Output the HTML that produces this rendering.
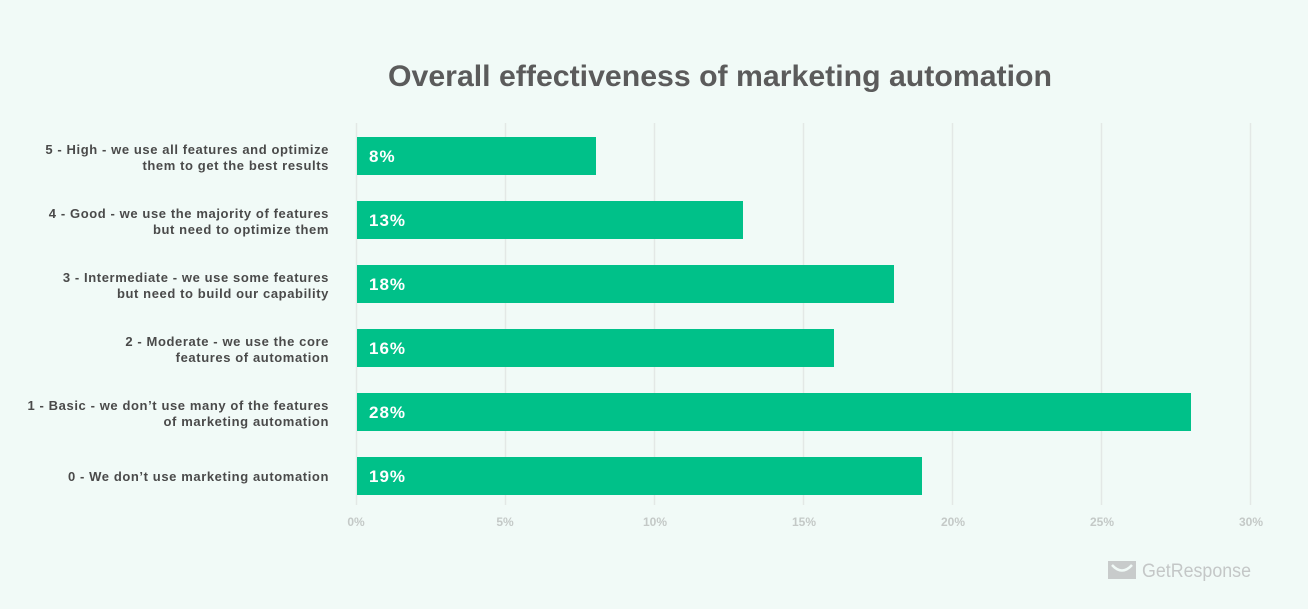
<!DOCTYPE html>
<html><head><meta charset="utf-8"><style>
body{margin:0;width:1308px;height:604px;background:#f1faf7;font-family:"Liberation Sans",sans-serif;overflow:hidden}
</style></head><body>
<svg width="1308" height="604" xmlns="http://www.w3.org/2000/svg" font-family="Liberation Sans, sans-serif">
<rect width="1308" height="604" fill="#f1faf7"/>
<text x="720" y="86" text-anchor="middle" font-size="30" font-weight="bold" fill="#5b5b5b" textLength="664" lengthAdjust="spacingAndGlyphs">Overall effectiveness of marketing automation</text>
<g stroke="#e3e8e6" stroke-width="1.5">
<line x1="356.5" y1="123" x2="356.5" y2="505"/>
<line x1="505.5" y1="123" x2="505.5" y2="505"/>
<line x1="654.5" y1="123" x2="654.5" y2="505"/>
<line x1="803.5" y1="123" x2="803.5" y2="505"/>
<line x1="952.5" y1="123" x2="952.5" y2="505"/>
<line x1="1101.5" y1="123" x2="1101.5" y2="505"/>
<line x1="1250.5" y1="123" x2="1250.5" y2="505"/>
</g>
<g font-size="12" font-weight="bold" fill="#c4c9c7" text-anchor="middle">
<text x="356" y="526">0%</text><text x="505" y="526">5%</text><text x="655" y="526">10%</text><text x="804" y="526">15%</text><text x="953" y="526">20%</text><text x="1102" y="526">25%</text><text x="1251" y="526">30%</text>
</g>
<g fill="#00c189">
<rect x="357" y="137" width="239" height="38"/>
<rect x="357" y="201" width="386" height="38"/>
<rect x="357" y="265" width="537" height="38"/>
<rect x="357" y="329" width="477" height="38"/>
<rect x="357" y="393" width="834" height="38"/>
<rect x="357" y="457" width="565" height="38"/>
</g>
<g fill="#fff" font-size="17" font-weight="bold" letter-spacing="1">
<text x="369" y="162">8%</text><text x="369" y="226">13%</text><text x="369" y="290">18%</text><text x="369" y="354">16%</text><text x="369" y="418">28%</text><text x="369" y="482">19%</text>
</g>
<g fill="#4a4a4a" font-size="13" font-weight="bold" text-anchor="end" letter-spacing="0.6">
<text x="329" y="154">5 - High - we use all features and optimize</text><text x="329" y="170">them to get the best results</text>
<text x="329" y="218">4 - Good - we use the majority of features</text><text x="329" y="234">but need to optimize them</text>
<text x="329" y="282">3 - Intermediate - we use some features</text><text x="329" y="298">but need to build our capability</text>
<text x="329" y="346">2 - Moderate - we use the core</text><text x="329" y="362">features of automation</text>
<text x="329" y="410">1 - Basic - we don’t use many of the features</text><text x="329" y="426">of marketing automation</text>
<text x="329" y="481">0 - We don’t use marketing automation</text>
</g>
<rect x="1108" y="561" width="28" height="18" fill="#c8cbcb"/>
<path d="M1112 565 Q1122 576 1132 565" stroke="#f1faf7" stroke-width="2.5" fill="none"/>
<text x="1142" y="577" font-size="19" fill="#c4c7c7" textLength="109" lengthAdjust="spacingAndGlyphs">GetResponse</text>
</svg>
</body></html>
